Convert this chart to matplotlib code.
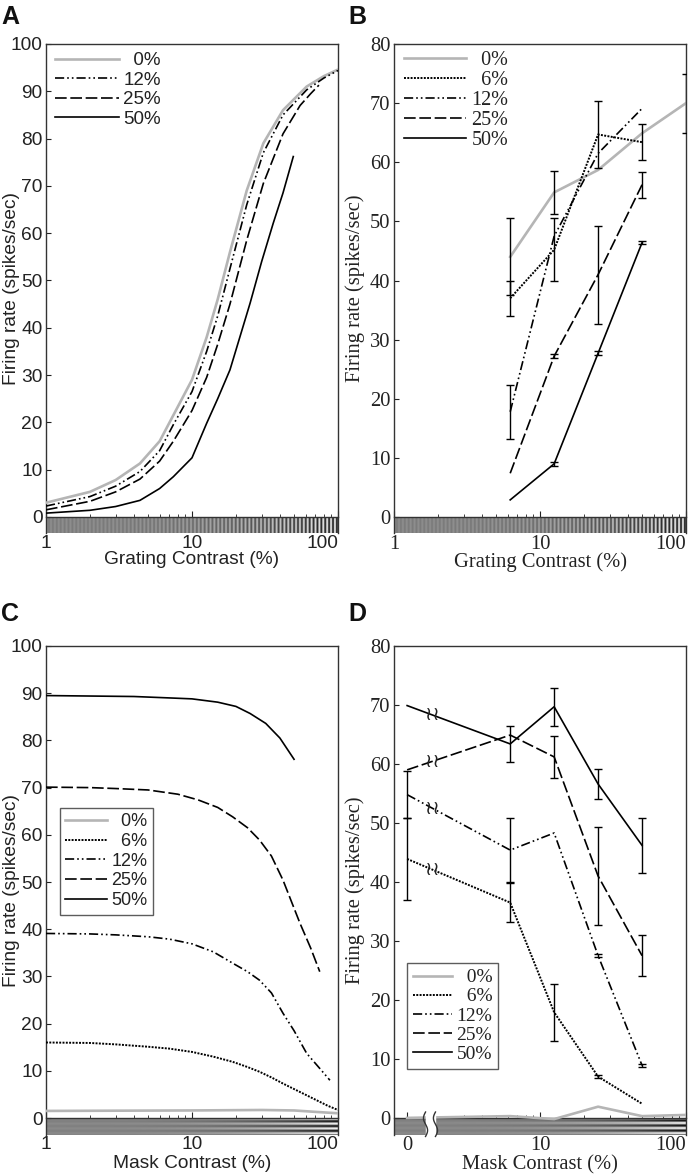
import numpy as np
import matplotlib.pyplot as plt
from matplotlib.patches import Rectangle
from matplotlib.ticker import NullFormatter

SANS = ['Liberation Sans', 'DejaVu Sans']
SERIF = ['Liberation Serif', 'DejaVu Serif']

# ---- A: model responses vs grating contrast, one curve per mask contrast
a_c_0 = [1, 2, 3, 4.4, 6, 7.45, 10, 12.6, 15, 18.2, 23.7, 30.8, 42, 61, 80, 100]
a_r_0 = [3.0, 5.3, 7.8, 11.3, 16.0, 21.5, 29.0, 38.0, 46.0, 56.0, 69.0, 79.0, 86.0, 91.0, 93.2, 94.6]
a_c_12 = [1, 2, 3, 4.4, 6, 7.45, 10, 12.6, 15, 18.2, 23.7, 30.8, 42, 61, 80, 100]
a_r_12 = [2.3, 4.3, 6.5, 9.6, 14.0, 19.5, 26.5, 35.0, 42.5, 52.5, 66.0, 77.0, 85.0, 90.3, 92.8, 94.4]
a_c_25 = [1, 2, 3, 4.4, 6, 7.45, 10, 12.6, 15, 18.2, 23.7, 30.8, 42, 55, 65, 74]
a_r_25 = [1.5, 3.3, 5.3, 8.0, 11.8, 16.0, 22.5, 29.5, 36.5, 45.0, 58.5, 70.5, 81.0, 87.0, 89.5, 91.3]
a_c_50 = [1, 2, 3, 4.4, 6, 7.45, 10, 12.6, 15, 18.2, 25, 30, 36, 42, 49.4]
a_r_50 = [0.8, 1.4, 2.2, 3.5, 6.0, 8.5, 12.5, 19.8, 25.0, 31.1, 45.2, 54.0, 62.1, 68.5, 76.2]

# ---- B: measured responses vs grating contrast
b_c_0 = [6.25, 12.5, 25, 50, 100]
b_r_0 = [44.0, 54.9, 58.7, 64.9, 70.0]
b_e_0 = [6.5, 3.7, 0, 0, 5.0]
b_c = [6.25, 12.5, 25, 50]
b_r_6 = [37.0, 45.2, 64.7, 63.4]
b_e_6 = [3.0, 5.3, 5.7, 3.0]
b_r_12 = [17.8, 47.5, 61.5, 69.1]
b_e_12 = [4.6, 0, 0, 0]
b_r_25 = [7.4, 27.2, 41.0, 56.2]
b_e_25 = [0, 0.3, 8.3, 2.2]
b_r_50 = [2.9, 9.0, 27.7, 46.4]
b_e_50 = [0, 0.3, 0.3, 0.3]

# ---- C: model responses vs mask contrast, one curve per grating contrast
c_c_0 = [1, 3, 10, 30, 50, 70, 100]
c_r_0 = [1.5, 1.55, 1.6, 1.7, 1.6, 1.3, 1.0]
c_c_6 = [1, 2, 3, 5, 7, 10, 14, 19, 24, 29, 35, 42, 55, 71, 85, 100]
c_r_6 = [16.0, 15.9, 15.6, 15.1, 14.7, 14.0, 13.0, 11.9, 10.8, 9.8, 8.6, 7.3, 5.5, 3.8, 2.6, 1.7]
c_c_12 = [1, 2, 3, 5, 7, 10, 14, 19, 24, 29, 35, 42, 50, 61, 75, 88]
c_r_12 = [39.1, 39.0, 38.8, 38.4, 37.9, 36.9, 35.2, 32.8, 31.0, 29.2, 26.5, 22.2, 18.5, 13.7, 10.5, 8.0]
c_c_25 = [1, 2, 3, 5, 8, 11, 15, 19, 24, 29, 35, 42, 55, 65, 75]
c_r_25 = [70.1, 70.0, 69.8, 69.5, 68.6, 67.4, 65.8, 63.8, 61.5, 58.9, 55.5, 50.4, 41.2, 36.0, 31.0]
c_c_50 = [1, 2, 4, 7, 10, 15, 20, 25, 32, 40, 50]
c_r_50 = [89.5, 89.4, 89.3, 89.0, 88.8, 88.1, 87.2, 85.7, 83.6, 80.5, 76.0]

# ---- D: measured responses vs mask contrast (0 drawn on a broken axis)
d_m_0 = [0, 6.25, 12.5, 25, 50, 100]
d_r_0 = [0.0, 0.3, -0.2, 1.9, 0.3, 0.5]
d_m = [0, 6.25, 12.5, 25, 50]
d_r_6 = [43.9, 36.5, 17.9, 7.0, 2.4]
d_e_6 = [7.0, 3.3, 4.8, 0.3, 0]
d_r_12 = [54.8, 45.4, 48.3, 27.5, 8.9]
d_e_12 = [4.0, 5.4, 0, 0.3, 0.3]
d_r_25 = [59.0, 64.9, 61.2, 41.0, 27.5]
d_e_25 = [0, 0, 3.5, 8.3, 3.5]
d_r_50 = [69.9, 63.4, 69.7, 56.6, 46.2]
d_e_50 = [0, 3.0, 3.2, 2.6, 4.7]

STYLE = {
    '0%': dict(color='#b5b5b5', lw=1.9, ls='-'),
    '6%': dict(color='black', lw=1.4, ls=(0, (1, 0.7))),
    '12%': dict(color='black', lw=1.2, ls=(0, (5.5, 1.8, 1, 1.8, 1, 1.8))),
    '25%': dict(color='black', lw=1.2, ls=(0, (7, 2.2))),
    '50%': dict(color='black', lw=1.2, ls='-'),
}
ZERO_POS = 1.23   # where mask contrast 0 sits on panel D
BREAK_POS = 1.82  # break marks on panel D
SANS_SIZE = 13.8
SERIF_SIZE = 14.8


def pad(lab):
    return lab.rjust(3, '\u2007')


def box(l, t, r, b):
    return [l / 690, 1 - b / 1175, (r - l) / 690, (b - t) / 1175]


def setup(ax, ymin, ymax, fam, size):
    ax.set_xscale('log')
    ax.set_xlim(1, 100)
    ax.set_ylim(ymin, ymax)
    ax.spines['bottom'].set_position(('data', 0))
    for s in ax.spines.values():
        s.set_color('#333333')
        s.set_linewidth(1.0)
    ax.set_yticks(np.arange(0, ymax + 1, 10))
    ax.set_xticks([1, 10, 100], ['1', '10', '100'])
    ax.set_xticks([2, 3, 4, 5, 6, 7, 8, 9, 20, 30, 40, 50, 60, 70, 80, 90], minor=True)
    ax.xaxis.set_minor_formatter(NullFormatter())
    ax.tick_params(axis='y', direction='in', length=3.5, pad=2.5, labelsize=size,
                   labelfontfamily=fam, colors='#222222')
    ax.tick_params(axis='x', which='both', direction='in', pad=13, labelsize=size,
                   labelfontfamily=fam, colors='#222222')
    ax.tick_params(axis='x', which='major', length=4.5)
    ax.tick_params(axis='x', which='minor', length=2.2)


def grating(ax, horizontal):
    y0, y1 = ax.get_ylim()
    frac = -y0 / (y1 - y0)
    ins = ax.inset_axes([0, 0, 1, frac], zorder=0.5)
    ins.set_axis_off()
    t = np.linspace(0, 1, 1200)
    if horizontal:
        amp = 0.02 + 0.46 * t ** 3.2
        rows = np.linspace(0, 1, 80)[:, None]
        img = 0.52 + amp[None, :] * np.sin(2 * np.pi * 3.5 * rows + 0.6)
    else:
        amp = 0.04 + 0.44 * t ** 2.6
        img = (0.52 + amp * np.sin(2 * np.pi * 75 * t))[None, :]
    ins.imshow(img, cmap='gray', vmin=0, vmax=1, aspect='auto', extent=(0, 1, 0, 1))
    return frac


def legend(ax, labels, anchor, fam, size, hl, ls, frame):
    leg = ax.legend(labels=[pad(l) for l in labels], loc='upper left', bbox_to_anchor=anchor,
                    frameon=frame, borderaxespad=0, borderpad=0.3 if frame else 0,
                    handlelength=hl, handletextpad=0.25, labelspacing=ls,
                    fancybox=False, prop={'family': fam, 'size': size})
    if frame:
        leg.get_frame().set_edgecolor('#333333')
        leg.get_frame().set_linewidth(1.0)
    for t in leg.get_texts():
        t.set_color('#222222')


def errs(ax, x, y, e):
    sel = [i for i in range(len(e)) if e[i] > 0]
    ax.errorbar([x[i] for i in sel], [y[i] for i in sel], yerr=[e[i] for i in sel],
                fmt='none', ecolor='black', elinewidth=1.0, capsize=3, capthick=1.0, zorder=4)


fig = plt.figure(figsize=(6.9, 11.75), dpi=100)
ax_a = fig.add_axes(box(46, 44, 338, 533))
ax_b = fig.add_axes(box(394, 44, 686, 533))
ax_c = fig.add_axes(box(46, 646, 338, 1135))
ax_d = fig.add_axes(box(394, 646, 686, 1135))

# A
setup(ax_a, -3.4, 100, SANS, SANS_SIZE)
for c, r, lab in [(a_c_0, a_r_0, '0%'), (a_c_12, a_r_12, '12%'),
                  (a_c_25, a_r_25, '25%'), (a_c_50, a_r_50, '50%')]:
    ax_a.plot(c, r, **STYLE[lab], zorder=3)
grating(ax_a, False)
legend(ax_a, ['0%', '12%', '25%', '50%'], (0.031, 0.983), SANS, 13.5, 3.4, 0.12, False)
ax_a.set_xlabel('Grating Contrast (%)', family=SANS, size=SANS_SIZE, color='#222222')
ax_a.set_ylabel('Firing rate (spikes/sec)', family=SANS, size=SANS_SIZE, color='#222222')

# B
setup(ax_b, -2.7, 80, SERIF, SERIF_SIZE)
ax_b.plot(b_c_0, b_r_0, **STYLE['0%'], zorder=3)
for r, lab in [(b_r_6, '6%'), (b_r_12, '12%'), (b_r_25, '25%'), (b_r_50, '50%')]:
    ax_b.plot(b_c, r, **STYLE[lab], zorder=3)
errs(ax_b, b_c_0, b_r_0, b_e_0)
for r, e in [(b_r_6, b_e_6), (b_r_12, b_e_12), (b_r_25, b_e_25), (b_r_50, b_e_50)]:
    errs(ax_b, b_c, r, e)
grating(ax_b, False)
legend(ax_b, ['0%', '6%', '12%', '25%', '50%'], (0.034, 0.986), SERIF, 14.5, 3.1, 0.05, False)
ax_b.set_xlabel('Grating Contrast (%)', family=SERIF, size=SERIF_SIZE, color='#222222')
ax_b.set_ylabel('Firing rate (spikes/sec)', family=SERIF, size=SERIF_SIZE, color='#222222')

# C
setup(ax_c, -3.6, 100, SANS, SANS_SIZE)
for c, r, lab in [(c_c_0, c_r_0, '0%'), (c_c_6, c_r_6, '6%'), (c_c_12, c_r_12, '12%'),
                  (c_c_25, c_r_25, '25%'), (c_c_50, c_r_50, '50%')]:
    ax_c.plot(c, r, **STYLE[lab], zorder=3)
grating(ax_c, True)
legend(ax_c, ['0%', '6%', '12%', '25%', '50%'], (0.048, 0.669), SANS, 13, 2.3, 0.15, True)
ax_c.set_xlabel('Mask Contrast (%)', family=SANS, size=SANS_SIZE, color='#222222')
ax_c.set_ylabel('Firing rate (spikes/sec)', family=SANS, size=SANS_SIZE, color='#222222')

# D
setup(ax_d, -2.9, 80, SERIF, SERIF_SIZE)
ax_d.set_xticks([ZERO_POS, 10, 100], ['0', '10', '100'])
ax_d.set_xticks([3, 4, 5, 6, 7, 8, 9, 20, 30, 40, 50, 60, 70, 80, 90], minor=True)
xd0 = [ZERO_POS if m == 0 else m for m in d_m_0]
xd = [ZERO_POS if m == 0 else m for m in d_m]
ax_d.plot(xd0, d_r_0, **STYLE['0%'], zorder=3)
for r, lab in [(d_r_6, '6%'), (d_r_12, '12%'), (d_r_25, '25%'), (d_r_50, '50%')]:
    ax_d.plot(xd, r, **STYLE[lab], zorder=3)
    t = (np.log10(BREAK_POS) - np.log10(xd[0])) / (np.log10(xd[1]) - np.log10(xd[0]))
    yb = r[0] + t * (r[1] - r[0])
    ax_d.text(BREAK_POS, yb, '\u2240\u2240', ha='center', va='center', fontsize=14,
              family='DejaVu Sans', color='#222222', zorder=5)
for r, e in [(d_r_6, d_e_6), (d_r_12, d_e_12), (d_r_25, d_e_25), (d_r_50, d_e_50)]:
    errs(ax_d, xd, r, e)
frac = grating(ax_d, True)
ax_d.add_patch(Rectangle((0.108, -0.01), 0.034, frac + 0.02, transform=ax_d.transAxes,
                         color='white', zorder=3.5, clip_on=False))
wave = np.linspace(0, 2 * np.pi, 40)
for xb in (0.108, 0.142):
    ax_d.plot(xb + 0.007 * np.sin(wave), np.linspace(-0.003, frac + 0.012, 40),
              transform=ax_d.transAxes, color='#333333', lw=1.0, clip_on=False, zorder=4)
legend(ax_d, ['0%', '6%', '12%', '25%', '50%'], (0.0445, 0.352), SERIF, 14, 2.0, 0.08, True)
ax_d.set_xlabel('Mask Contrast (%)', family=SERIF, size=SERIF_SIZE, color='#222222')
ax_d.set_ylabel('Firing rate (spikes/sec)', family=SERIF, size=SERIF_SIZE, color='#222222')

for ax in (ax_a, ax_b, ax_c, ax_d):
    ax.xaxis.get_majorticklabels()[-1].set_horizontalalignment('right')
for ax in (ax_a, ax_c):
    ax.yaxis.set_label_coords(-0.088, 0.5)
for ax in (ax_b, ax_d):
    ax.yaxis.set_label_coords(-0.098, 0.5)
ax_a.xaxis.set_label_coords(0.5, -0.037)
ax_b.xaxis.set_label_coords(0.5, -0.04)
ax_c.xaxis.set_label_coords(0.5, -0.041)
ax_d.xaxis.set_label_coords(0.5, -0.042)

for x, y, s in [(1, 5, 'A'), (348, 5, 'B'), (1, 602, 'C'), (348, 602, 'D')]:
    fig.text(x / 690, 1 - y / 1175, s, ha='left', va='top', fontsize=18,
             fontweight='bold', family=SANS, color='#111111')

fig.savefig('out.png', dpi=100)
